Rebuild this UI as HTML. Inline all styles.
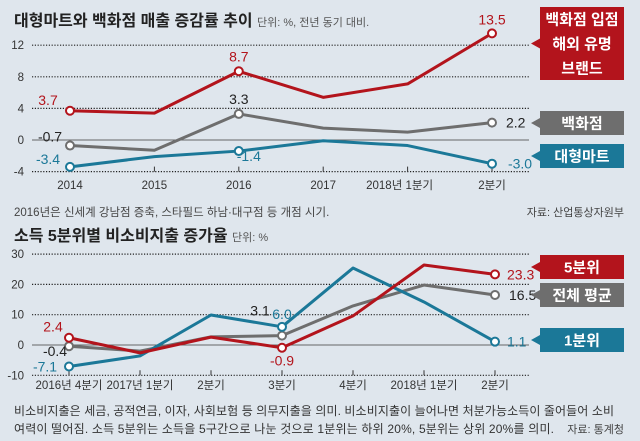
<!DOCTYPE html>
<html><head><meta charset="utf-8"><style>
html,body{margin:0;padding:0;background:#dfe6ed;}
svg{display:block;font-family:"Liberation Sans","Noto Sans CJK KR",sans-serif;}
</style></head><body>
<svg id="c" width="640" height="441" viewBox="0 0 640 441">
<rect width="640" height="441" fill="#dfe6ed"/>
<text x="14" y="26" font-size="16" font-weight="bold" fill="#222">대형마트와 백화점 매출 증감률 추이 <tspan font-size="11" font-weight="normal" fill="#555">단위: %, 전년 동기 대비.</tspan></text>
<text x="14" y="216" font-size="11.5" fill="#444">2016년은 신세계 강남점 증축, 스타필드 하남·대구점 등 개점 시기.</text>
<text x="624" y="216" font-size="11" fill="#444" text-anchor="end">자료: 산업통상자원부</text>
<text x="14" y="241" font-size="16" font-weight="bold" fill="#222">소득 5분위별 비소비지출 증가율 <tspan font-size="11" font-weight="normal" fill="#555">단위: %</tspan></text>
<text x="14" y="415" font-size="12" fill="#333" textLength="600">비소비지출은 세금, 공적연금, 이자, 사회보험 등 의무지출을 의미. 비소비지출이 늘어나면 처분가능소득이 줄어들어 소비</text>
<text x="14" y="433" font-size="12" fill="#333" textLength="540">여력이 떨어짐. 소득 5분위는 소득을 5구간으로 나눈 것으로 1분위는 하위 20%, 5분위는 상위 20%를 의미.</text>
<text x="624" y="433" font-size="11" fill="#444" text-anchor="end">자료: 통계청</text>
<g id="g1"></g><g id="g2"></g>
</svg>
<script>
// Chart 1 data
const cats1 = ["2014","2015","2016","2017","2018년 1분기","2분기"];
const yTicks1 = [12,8,4,0,-4];
const dept = [-0.7,-1.3,3.3,1.5,1.0,2.2];
const mart = [-3.4,-2.1,-1.4,-0.1,-0.7,-3.0];
const brand = [3.7,3.4,8.7,5.4,7.1,13.5];
// Chart 2 data
const cats2 = ["2016년 4분기","2017년 1분기","2분기","3분기","4분기","2018년 1분기","2분기"];
const yTicks2 = [30,20,10,0,-10];
const q5 = [2.4,-2.6,2.6,-0.9,9.6,26.4,23.3];
const avg = [-0.4,-2.0,2.7,3.1,12.9,19.8,16.5];
const q1 = [-7.1,-3.6,9.9,6.0,25.4,14.2,1.1];

const NS="http://www.w3.org/2000/svg";
function mk(p,tag,attrs,txt){const e=document.createElementNS(NS,tag);for(const k in attrs)e.setAttribute(k,attrs[k]);if(txt!==undefined)e.textContent=txt;p.appendChild(e);return e;}
const RED="#b3141c",GRAY="#6e6e6e",BLUE="#1b7898";

function chart(g,cats,ticks,x0,dx,yz,ppu,series,xlabY,xLabelShift){
  const X=i=>x0+i*dx, Y=v=>yz-v*ppu;
  ticks.forEach(t=>{
    const tl=mk(g,'text',{x:24,y:Y(t)+4,'font-size':11.5,fill:'#333','text-anchor':'end'},String(t));
    
    
    if(t!==0){const l=mk(g,'line',{x1:32,x2:529,y1:Y(t),y2:Y(t),stroke:'#222','stroke-width':1.2,'stroke-dasharray':'1.2,1.6'});
      
      }
    else {const l=mk(g,'line',{x1:32,x2:529,y1:Y(0),y2:Y(0),stroke:'#666','stroke-width':1});
      
      }
  });
  const yb=Y(ticks[ticks.length-1]);
  cats.forEach((c,i)=>{
    const tk=mk(g,'line',{x1:X(i),x2:X(i),y1:yb-5,y2:yb,stroke:'#333'});
    
    
    const t=mk(g,'text',{x:X(i)+(xLabelShift[i]||0),y:xlabY,'font-size':11.5,fill:'#333','text-anchor':'middle'},c);
    
    
  });
  series.forEach(s=>{
    const pl=mk(g,'polyline',{points:s.data.map((v,i)=>X(i)+','+Y(v)).join(' '),fill:'none',stroke:s.color,'stroke-width':3,'stroke-linejoin':'round'});
    
    
    s.marks.forEach(m=>{
      const c=mk(g,'circle',{cx:X(m[0]),cy:Y(s.data[m[0]]),r:4,fill:'#fff',stroke:s.color,'stroke-width':2});
      
      
      const t=mk(g,'text',{x:X(m[0])+m[1],y:Y(s.data[m[0]])+m[2],'font-size':14,fill:s.lab||s.color,'text-anchor':m[3]||'middle'},s.data[m[0]].toFixed(1));
      
      
    });
  });
  return {X,Y};
}
function legend(g,y1,y2,color,lines,name){
  const p=mk(g,'path',{d:`M540 ${y1} H624 V${y2} H540 V${(y1+y2)/2+5} L531 ${(y1+y2)/2} L540 ${(y1+y2)/2-5} Z`,fill:color});
  
  
  const h=(y2-y1)/lines.length;
  lines.forEach((l,i)=>{
    const t=mk(g,'text',{x:582,y:y1+h*i+h/2+5.5,'font-size':15,'font-weight':'bold',fill:'#fff','text-anchor':'middle'},l);
    
    
  });
}
const g1=document.getElementById('g1'),g2=document.getElementById('g2');
chart(g1,cats1,yTicks1,70,84.4,140,7.9,[
  {name:'dept',data:dept,color:GRAY,lab:'#222',marks:[[0,-20,-4],[2,0,-10],[5,14,5,'start']]},
  {name:'mart',data:mart,color:BLUE,marks:[[0,-22,-3],[2,10,10],[5,28,5]]},
  {name:'brand',data:brand,color:RED,marks:[[0,-22,-6],[2,0,-10],[5,0,-9]]}
],189,{4:-8});
legend(g1,7,80,RED,["백화점 입점","해외 유명","브랜드"],'legend-brand');
legend(g1,111,135,GRAY,["백화점"],'legend-dept');
legend(g1,144,168,BLUE,["대형마트"],'legend-mart');
chart(g2,cats2,yTicks2,69,71,345,3.03,[
  {name:'avg',data:avg,color:GRAY,lab:'#222',marks:[[0,-14,10],[3,-22,-20],[6,14,5,'start']]},
  {name:'q1',data:q1,color:BLUE,marks:[[0,-24,5],[3,0,-8],[6,12,5,'start']]},
  {name:'q5',data:q5,color:RED,marks:[[0,-16,-6],[3,0,18],[6,12,5,'start']]}
],389,{});
legend(g2,255,279,RED,["5분위"],'legend-q5');
legend(g2,283,307,GRAY,["전체 평균"],'legend-avg');
legend(g2,328,352,BLUE,["1분위"],'legend-q1');
</script>
</body></html>
